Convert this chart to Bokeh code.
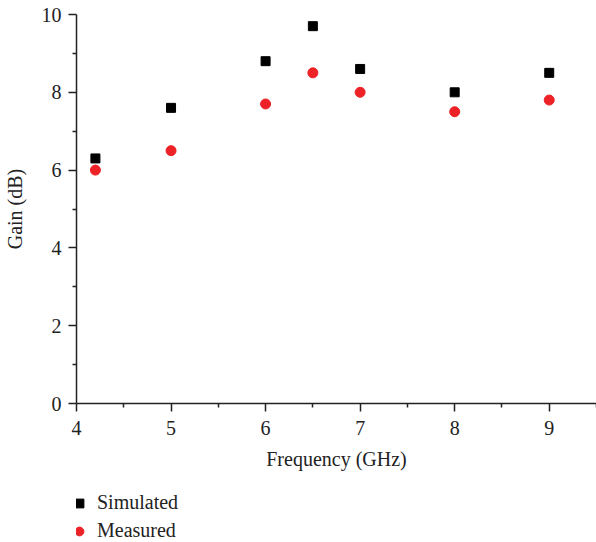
from bokeh.plotting import figure
from bokeh.layouts import column
from bokeh.models import Range1d, Legend, LegendItem, FixedTicker
from bokeh.embed import file_html
from bokeh.resources import INLINE

freq = [4.2, 5, 6, 6.5, 7, 8, 9]
simulated = [6.3, 7.6, 8.8, 9.7, 8.6, 8.0, 8.5]
measured = [6.0, 6.5, 7.7, 8.5, 8.0, 7.5, 7.8]
x_ticks = [4, 5, 6, 7, 8, 9]
y_ticks = [0, 2, 4, 6, 8, 10]
series_names = ["Simulated", "Measured"]

FONT = "Liberation Serif"
FS = "20px"
INK = "#222222"
RED = "#ec2227"

p = figure(width=596, height=478, output_backend="svg", toolbar_location=None,
           x_range=Range1d(4, 9.5), y_range=Range1d(0, 10),
           min_border_left=76, min_border_top=14, min_border_right=0, min_border_bottom=75)
p.outline_line_color = None
p.xgrid.visible = False
p.ygrid.visible = False

p.scatter(freq, simulated, marker="square", size=9, fill_color="black", line_color="black")
p.scatter(freq, measured, marker="circle", size=10, fill_color=RED, line_color=RED)

for ax, ticks in ((p.xaxis[0], x_ticks), (p.yaxis[0], y_ticks)):
    ax.ticker = FixedTicker(ticks=ticks, minor_ticks=[t + (ticks[1]-ticks[0])/2 for t in ticks])
    ax.major_tick_in = 0
    ax.major_tick_out = 8
    ax.minor_tick_in = 0
    ax.minor_tick_out = 4
    ax.axis_line_width = 1.5
    ax.axis_line_color = INK
    ax.major_tick_line_color = INK
    ax.minor_tick_line_color = INK
    ax.major_tick_line_width = 1.5
    ax.minor_tick_line_width = 1.5
    ax.major_label_text_font = FONT
    ax.major_label_text_font_size = FS
    ax.major_label_text_color = INK
    ax.axis_label_text_font = FONT
    ax.axis_label_text_font_size = FS
    ax.axis_label_text_font_style = "normal"
    ax.axis_label_text_color = INK

p.xaxis.axis_label = "Frequency (GHz)"
p.yaxis.axis_label = "Gain (dB)"
p.xaxis.major_label_standoff = 9
p.xaxis.axis_label_standoff = 10
p.yaxis.major_label_standoff = 7
p.yaxis.axis_label_standoff = 13

# legend strip below the chart (its own glyphs lie outside its visible range)
p2 = figure(width=596, height=64, output_backend="svg", toolbar_location=None,
            x_range=Range1d(-10, -9), y_range=Range1d(-10, -9),
            x_axis_type=None, y_axis_type=None,
            min_border_left=0, min_border_top=0, min_border_right=0, min_border_bottom=0)
p2.outline_line_color = None
p2.xgrid.visible = False
p2.ygrid.visible = False
l1 = p2.scatter(freq, simulated, marker="square", size=9, fill_color="black", line_color="black")
l2 = p2.scatter(freq, measured, marker="circle", size=10, fill_color=RED, line_color=RED)

legend = Legend(items=[LegendItem(label=series_names[0], renderers=[l1]),
                       LegendItem(label=series_names[1], renderers=[l2])],
                location=(-8, 0), orientation="vertical")
legend.border_line_color = None
legend.background_fill_alpha = 0
legend.label_text_font = FONT
legend.label_text_font_size = FS
legend.label_text_color = INK
legend.glyph_width = 22
legend.glyph_height = 22
legend.label_height = 20
legend.label_standoff = 7
legend.spacing = 5
legend.padding = 0
legend.margin = 0
p2.add_layout(legend, "center")

layout = column(p, p2, spacing=0)
open("out.html", "w").write(file_html(layout, INLINE))
